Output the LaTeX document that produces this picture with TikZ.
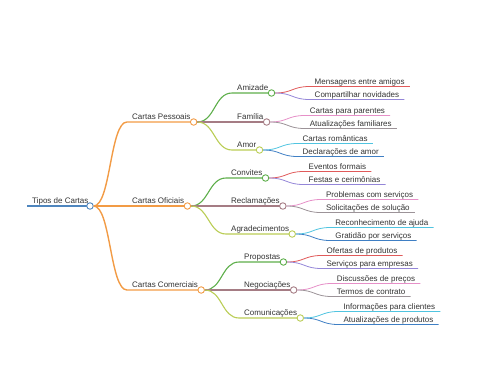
\documentclass[tikz,border=0pt]{standalone}
\usepackage{fontspec}
\setmainfont{Liberation Sans}
\usepackage{xcolor}
\usepackage{tikz}
\usetikzlibrary{positioning, calc}

\definecolor{rootc}{HTML}{4F86BE}
\definecolor{orgc}{HTML}{F29B45}
\definecolor{grnc}{HTML}{5DAE4A}
\definecolor{mauc}{HTML}{A57C84}
\definecolor{ylwc}{HTML}{BACD55}
\definecolor{redc}{HTML}{E05A5A}
\definecolor{purc}{HTML}{9486D8}
\definecolor{pnkc}{HTML}{E690C8}
\definecolor{gryc}{HTML}{9C9398}
\definecolor{cync}{HTML}{50C4E0}
\definecolor{bluc}{HTML}{3F7FC4}
\definecolor{txtc}{HTML}{333333}

\begin{document}
\begin{tikzpicture}[x=1pt, y=-1pt,
  every node/.style={font=\fontsize{8}{9.6}\selectfont, text=txtc},
  lbl/.style={anchor=south west, inner xsep=5pt, inner ysep=1pt, text height=6pt, text depth=1pt},
  dot/.style={circle, draw, fill=white, inner sep=0pt, minimum size=6.5pt, line width=0.9pt},
  lvlone/.style={line width=1.4pt, out=0, in=180, looseness=0.48},
  lvltwo/.style={line width=1.1pt, out=0, in=180, looseness=1},
  lvlthree/.style={line width=0.8pt, out=0, in=180, looseness=1.26}]
\useasboundingbox (0,0) rectangle (480,384);

% root
\node[lbl] (tipos) at (27,206) {Tipos de Cartas};
\draw[rootc, line width=1.8pt] (tipos.south west) -- (90,206) coordinate (tipose);
\node[dot, draw=rootc] (tiposc) at (tipose) {};

% first level
\node[lbl] (pes) at (127,122) {Cartas Pessoais};
\node[lbl] (ofi) at (127,206) {Cartas Oficiais};
\node[lbl] (com) at (127,290) {Cartas Comerciais};
\draw[orgc, lvlone] (tiposc) to (pes.south west) -- ([xshift=-2pt]pes.south east);
\draw[orgc, lvlone] (tiposc) to (ofi.south west) -- ([xshift=-2pt]ofi.south east);
\draw[orgc, lvlone] (tiposc) to (com.south west) -- ([xshift=-2pt]com.south east);
\node[dot, draw=orgc] (pesc) at ([xshift=-2pt]pes.south east) {};
\node[dot, draw=orgc] (ofic) at ([xshift=-2pt]ofi.south east) {};
\node[dot, draw=orgc] (comc) at ([xshift=-2pt]com.south east) {};

% second level
\node[lbl] (ami) at (232,93) {Amizade};
\node[lbl] (fam) at (232,122) {Família};
\node[lbl] (amo) at (232,150) {Amor};
\node[lbl] (con) at (226,178) {Convites};
\node[lbl] (rec) at (226,206) {Reclamações};
\node[lbl] (agr) at (226,234) {Agradecimentos};
\node[lbl] (pro) at (239,262) {Propostas};
\node[lbl] (neg) at (239,290) {Negociações};
\node[lbl] (cmn) at (239,318) {Comunicações};

\draw[grnc, lvltwo] (pesc) to (ami.south west) -- ([xshift=-2pt]ami.south east);
\draw[mauc, lvltwo] (pesc) to (fam.south west) -- ([xshift=-2pt]fam.south east);
\draw[ylwc, lvltwo] (pesc) to (amo.south west) -- ([xshift=-2pt]amo.south east);
\draw[grnc, lvltwo] (ofic) to (con.south west) -- ([xshift=-2pt]con.south east);
\draw[mauc, lvltwo] (ofic) to (rec.south west) -- ([xshift=-2pt]rec.south east);
\draw[ylwc, lvltwo] (ofic) to (agr.south west) -- ([xshift=-2pt]agr.south east);
\draw[grnc, lvltwo] (comc) to (pro.south west) -- ([xshift=-2pt]pro.south east);
\draw[mauc, lvltwo] (comc) to (neg.south west) -- ([xshift=-2pt]neg.south east);
\draw[ylwc, lvltwo] (comc) to (cmn.south west) -- ([xshift=-2pt]cmn.south east);

\node[dot, draw=grnc] (amic) at ([xshift=-2pt]ami.south east) {};
\node[dot, draw=mauc] (famc) at ([xshift=-2pt]fam.south east) {};
\node[dot, draw=ylwc] (amoc) at ([xshift=-2pt]amo.south east) {};
\node[dot, draw=grnc] (conc) at ([xshift=-2pt]con.south east) {};
\node[dot, draw=mauc] (recc) at ([xshift=-2pt]rec.south east) {};
\node[dot, draw=ylwc] (agrc) at ([xshift=-2pt]agr.south east) {};
\node[dot, draw=grnc] (proc) at ([xshift=-2pt]pro.south east) {};
\node[dot, draw=mauc] (negc) at ([xshift=-2pt]neg.south east) {};
\node[dot, draw=ylwc] (cmnc) at ([xshift=-2pt]cmn.south east) {};

% leaves
\node[lbl] (ami1) at ([xshift=38pt, yshift=6.5pt]amic) {Mensagens entre amigos};
\node[lbl] (ami2) at ([xshift=38pt, yshift=-6.5pt]amic) {Compartilhar novidades};
\node[lbl] (fam1) at ([xshift=38pt, yshift=6.5pt]famc) {Cartas para parentes};
\node[lbl] (fam2) at ([xshift=38pt, yshift=-6.5pt]famc) {Atualizações familiares};
\node[lbl] (amo1) at ([xshift=38pt, yshift=6.5pt]amoc) {Cartas românticas};
\node[lbl] (amo2) at ([xshift=38pt, yshift=-6.5pt]amoc) {Declarações de amor};
\node[lbl] (con1) at ([xshift=38pt, yshift=6.5pt]conc) {Eventos formais};
\node[lbl] (con2) at ([xshift=38pt, yshift=-6.5pt]conc) {Festas e cerimônias};
\node[lbl] (rec1) at ([xshift=38pt, yshift=6.5pt]recc) {Problemas com serviços};
\node[lbl] (rec2) at ([xshift=38pt, yshift=-6.5pt]recc) {Solicitações de solução};
\node[lbl] (agr1) at ([xshift=38pt, yshift=6.5pt]agrc) {Reconhecimento de ajuda};
\node[lbl] (agr2) at ([xshift=38pt, yshift=-6.5pt]agrc) {Gratidão por serviços};
\node[lbl] (pro1) at ([xshift=38pt, yshift=6.5pt]proc) {Ofertas de produtos};
\node[lbl] (pro2) at ([xshift=38pt, yshift=-6.5pt]proc) {Serviços para empresas};
\node[lbl] (neg1) at ([xshift=38pt, yshift=6.5pt]negc) {Discussões de preços};
\node[lbl] (neg2) at ([xshift=38pt, yshift=-6.5pt]negc) {Termos de contrato};
\node[lbl] (cmn1) at ([xshift=38pt, yshift=6.5pt]cmnc) {Informações para clientes};
\node[lbl] (cmn2) at ([xshift=38pt, yshift=-6.5pt]cmnc) {Atualizações de produtos};

\foreach \p/\a/\b in {ami/redc/purc, fam/pnkc/gryc, amo/cync/bluc,
                      con/redc/purc, rec/pnkc/gryc, agr/cync/bluc,
                      pro/redc/purc, neg/pnkc/gryc, cmn/cync/bluc} {
  \draw[\a, lvlthree] (\p c) to (\p1.south west) -- (\p1.south east);
  \draw[\b, lvlthree] (\p c) to (\p2.south west) -- (\p2.south east);
}
\end{tikzpicture}
\end{document}
